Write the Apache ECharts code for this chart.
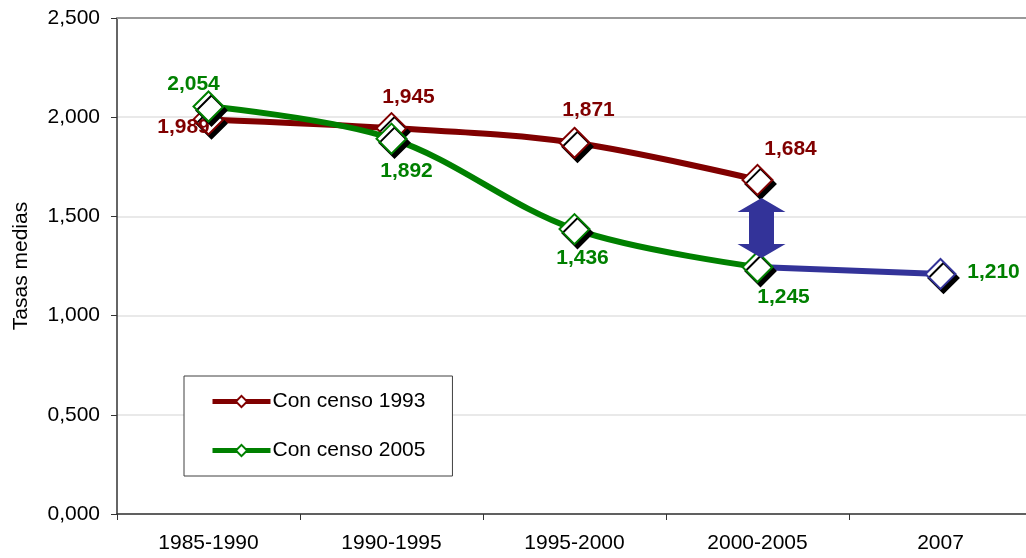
<!DOCTYPE html>
<html>
<head>
<meta charset="utf-8">
<script src="https://cdn.jsdelivr.net/npm/echarts@6/dist/echarts.min.js"></script>
<style>
html,body{margin:0;padding:0;background:#fff;overflow:hidden;}
#chart{width:1026px;height:558px;}
</style>
</head>
<body>
<div id="chart"></div>
<script>
// ---- data ----
var categories = ['1985-1990', '1990-1995', '1995-2000', '2000-2005', '2007'];
var censo1993 = [1.989, 1.945, 1.871, 1.684, null];
var censo2005 = [2.054, 1.892, 1.436, 1.245, null];
var proyeccion = [null, null, null, 1.245, 1.210];
var yTicks = [0, 0.5, 1.0, 1.5, 2.0, 2.5];
var arrowRange = [1.593, 1.290]; // vertical double arrow at 2000-2005

// ---- styles ----
var RED = '#800000', GREEN = '#008000', BLUE = '#333399';
var FONT = 'Liberation Sans, Arial, sans-serif';
var labelOff1993 = [[-25, 8], [17, -31], [14, -33], [33, -31], null];
var labelOff2005 = [[-15, -22], [15, 33], [8, 29], [26, 30], null];
var labelOffProj = [null, null, null, null, [53, -2]];

function fmt(v) { return v.toFixed(3).replace('.', ','); }

function buildData(values, offsets, color, hideIdx) {
  return values.map(function (v, i) {
    if (v == null) return null;
    var d = { value: v };
    if (offsets[i]) {
      d.label = { show: true, position: 'inside', offset: offsets[i], color: color };
    } else {
      d.label = { show: false };
    }
    if (hideIdx && hideIdx.indexOf(i) >= 0) d.symbol = 'none';
    return d;
  });
}

var symbolStyle = function (color) {
  return {
    color: '#ffffff',
    borderColor: color,
    borderWidth: 2,
    shadowColor: '#000',
    shadowBlur: 0,
    shadowOffsetX: 3,
    shadowOffsetY: 4
  };
};

var labelBase = { fontFamily: FONT, fontSize: 21, fontWeight: 'bold', formatter: function (p) { return fmt(p.value); } };

var chart = echarts.init(document.getElementById('chart'), null, { renderer: 'canvas' });

var option = {
  animation: false,
  backgroundColor: '#ffffff',
  grid: { left: 117, width: 915, top: 18, bottom: 44, containLabel: false, outerBoundsMode: 'none' },
  legend: {
    data: ['Con censo 1993', 'Con censo 2005'],
    orient: 'vertical',
    left: 184, top: 376,
    padding: [15, 27, 15, 26],
    itemGap: 28,
    itemWidth: 58, itemHeight: 14,
    borderColor: '#404040', borderWidth: 1,
    backgroundColor: '#fff',
    textStyle: { fontFamily: FONT, fontSize: 21, color: '#000', padding: [0, 0, 0, -3] },
    itemStyle: { shadowColor: 'transparent', shadowOffsetX: 0, shadowOffsetY: 0, borderWidth: 2 },
    lineStyle: { width: 5 },
    selectedMode: false
  },
  xAxis: [{
    type: 'category',
    data: categories,
    boundaryGap: true,
    axisLine: { show: true, lineStyle: { color: '#333', width: 1.5 } },
    axisTick: { show: true, length: 6, lineStyle: { color: '#333' } },
    axisLabel: { fontFamily: FONT, fontSize: 21, color: '#000', margin: 19 },
    splitLine: { show: false }
  }, {
    type: 'category',
    position: 'top',
    data: categories,
    axisLine: { show: true, lineStyle: { color: '#999', width: 2 } },
    axisTick: { show: false },
    axisLabel: { show: false },
    splitLine: { show: false }
  }],
  yAxis: {
    type: 'value',
    min: yTicks[0], max: yTicks[yTicks.length - 1], interval: 0.5,
    name: 'Tasas medias',
    nameLocation: 'middle',
    nameGap: 85,
    nameTextStyle: { fontFamily: FONT, fontSize: 21, color: '#000' },
    axisLine: { show: true, lineStyle: { color: '#333', width: 1.5 } },
    axisTick: { show: true, length: 6, lineStyle: { color: '#333' } },
    axisLabel: { fontFamily: FONT, fontSize: 21, color: '#000', margin: 17, formatter: fmt },
    splitLine: { show: true, lineStyle: { color: '#e2e2e2', width: 1.5 } }
  },
  series: [
    {
      name: 'Proyección',
      type: 'line',
      data: buildData(proyeccion, labelOffProj, GREEN, [3]),
      smooth: 0.35,
      symbol: 'diamond', symbolSize: 30,
      lineStyle: { color: BLUE, width: 6 },
      itemStyle: symbolStyle(BLUE),
      label: labelBase,
      z: 2
    },
    {
      name: 'Con censo 1993',
      type: 'line',
      data: buildData(censo1993, labelOff1993, RED),
      smooth: 0.35,
      symbol: 'diamond', symbolSize: 30,
      lineStyle: { color: RED, width: 6 },
      itemStyle: symbolStyle(RED),
      label: labelBase,
      z: 3
    },
    {
      name: 'Con censo 2005',
      type: 'line',
      data: buildData(censo2005, labelOff2005, GREEN),
      smooth: 0.35,
      symbol: 'diamond', symbolSize: 30,
      lineStyle: { color: GREEN, width: 6 },
      itemStyle: symbolStyle(GREEN),
      label: labelBase,
      z: 4
    }
  ]
};
chart.setOption(option);

// double arrow annotation
var pTop = chart.convertToPixel({ xAxisIndex: 0, yAxisIndex: 0 }, [3, arrowRange[0]]);
var pBot = chart.convertToPixel({ xAxisIndex: 0, yAxisIndex: 0 }, [3, arrowRange[1]]);
var cx = pTop[0] + 4, yT = pTop[1], yB = pBot[1];
var hw = 24, sw = 12.5, hh = 14;
chart.setOption({
  graphic: [{
    type: 'polygon',
    z: 10,
    shape: {
      points: [
        [cx, yT], [cx + hw, yT + hh], [cx + sw, yT + hh], [cx + sw, yB - hh],
        [cx + hw, yB - hh], [cx, yB], [cx - hw, yB - hh], [cx - sw, yB - hh],
        [cx - sw, yT + hh], [cx - hw, yT + hh]
      ]
    },
    style: { fill: BLUE }
  }]
});
</script>
</body>
</html>
